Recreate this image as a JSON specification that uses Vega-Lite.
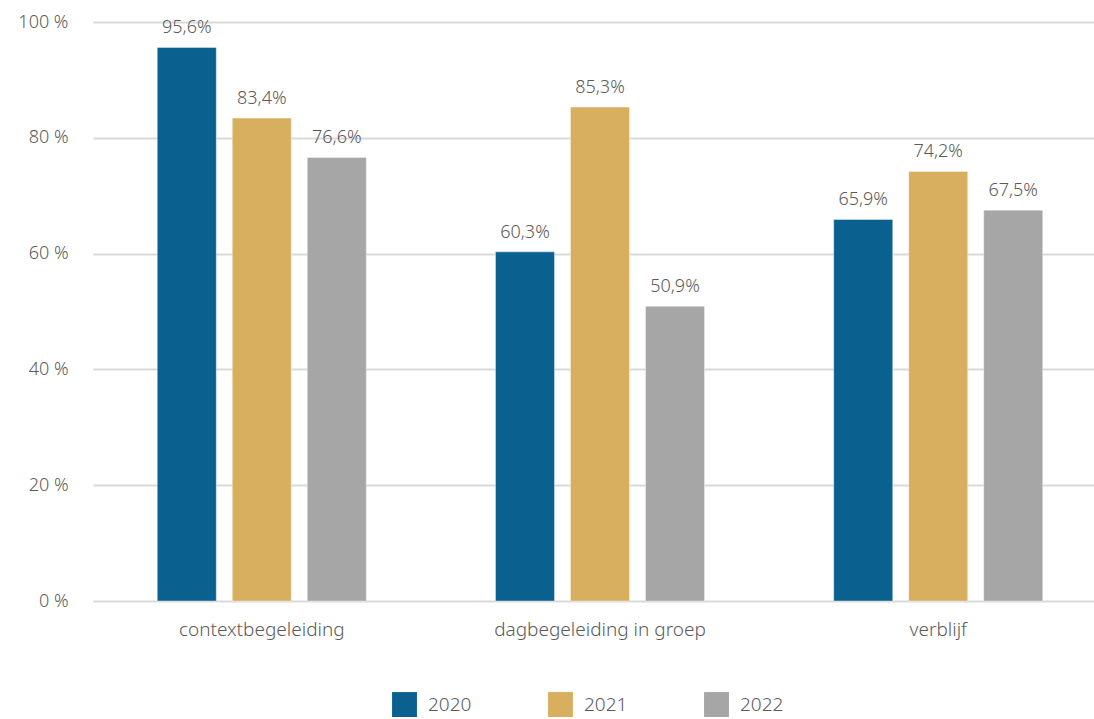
{
  "$schema": "https://vega.github.io/schema/vega-lite/v6.json",
  "autosize": "none",
  "padding": {"left": 93, "top": 22, "right": 0, "bottom": 118},
  "width": 1001,
  "height": 579,
  "config": {
    "view": {"stroke": null},
    "font": "Noto Sans",
    "locale": {"number": {"decimal": ",", "thousands": ".", "grouping": [3], "currency": ["€", ""]}}
  },
  "data": {
    "values": [
      {"category": "contextbegeleiding", "year": "2020", "value": 0.956},
      {"category": "contextbegeleiding", "year": "2021", "value": 0.834},
      {"category": "contextbegeleiding", "year": "2022", "value": 0.766},
      {"category": "dagbegeleiding in groep", "year": "2020", "value": 0.603},
      {"category": "dagbegeleiding in groep", "year": "2021", "value": 0.853},
      {"category": "dagbegeleiding in groep", "year": "2022", "value": 0.509},
      {"category": "verblijf", "year": "2020", "value": 0.659},
      {"category": "verblijf", "year": "2021", "value": 0.742},
      {"category": "verblijf", "year": "2022", "value": 0.675}
    ]
  },
  "encoding": {
    "x": {
      "field": "category", "type": "nominal", "sort": null,
      "scale": {"range": [0, 1014], "paddingInner": 0.374, "paddingOuter": 0.186},
      "axis": {"title": null, "labelAngle": 0, "ticks": false, "domain": false, "labelFontSize": 19, "labelFontWeight": 300, "labelColor": "#5a5a5a", "labelPadding": 19, "labelLimit": 0}
    },
    "xOffset": {"field": "year", "type": "nominal", "scale": {"paddingInner": 0.213, "paddingOuter": 0.018}},
    "y": {
      "field": "value", "type": "quantitative",
      "scale": {"domain": [0, 1], "nice": false},
      "axis": {"title": null, "values": [0, 0.2, 0.4, 0.6, 0.8, 1], "labelExpr": "round(datum.value*100) + ' %'", "ticks": false, "domain": false, "gridColor": "#d9d9d9", "gridWidth": 2, "labelFontSize": 18, "labelFontWeight": 300, "labelColor": "#5a5a5a", "labelPadding": 25}
    }
  },
  "layer": [
    {
      "mark": {"type": "bar", "stroke": "#ffffff", "strokeOpacity": 0.4, "strokeWidth": 1},
      "encoding": {
        "color": {
          "field": "year", "type": "nominal",
          "scale": {"domain": ["2020", "2021", "2022"], "range": ["#0a608e", "#d8ae5f", "#a6a6a6"]},
          "legend": {"title": null, "orient": "none", "legendX": 299, "legendY": 670, "direction": "horizontal", "symbolType": "square", "symbolSize": 620, "symbolStrokeWidth": 0, "labelFontSize": 19, "labelFontWeight": 300, "labelColor": "#5a5a5a", "labelOffset": 11, "columnPadding": 76}
        }
      }
    },
    {
      "mark": {"type": "text", "baseline": "bottom", "dy": -10, "fontSize": 18, "fontWeight": 300, "color": "#5a5a5a"},
      "encoding": {
        "text": {"field": "value", "type": "quantitative", "format": ".1%"}
      }
    }
  ]
}
